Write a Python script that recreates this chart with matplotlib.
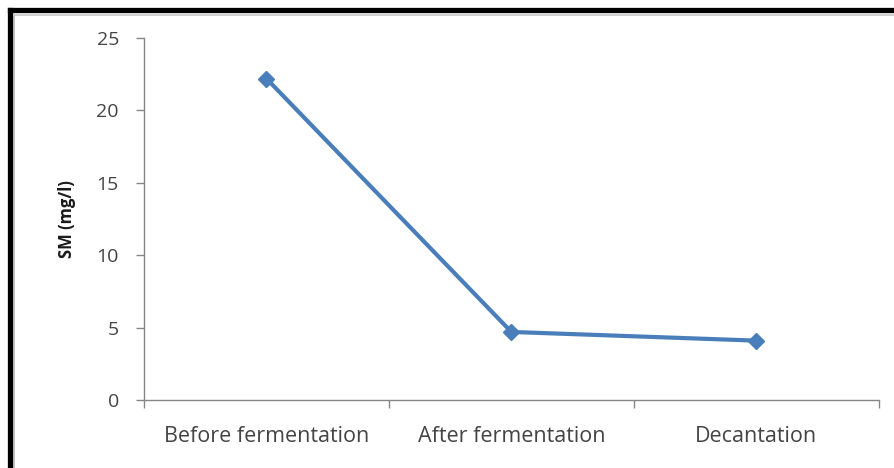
import matplotlib
matplotlib.use("Agg")
import matplotlib.pyplot as plt
from matplotlib.lines import Line2D

stages = ["Before fermentation", "After fermentation", "Decantation"]
sm_values = [22.2, 4.7, 4.1]
y_ticks = [0, 5, 10, 15, 20, 25]

plt.rcParams['font.family'] = ['Open Sans', 'DejaVu Sans']

fig = plt.figure(figsize=(8.94, 4.68), dpi=100)
ax = fig.add_axes([0.161, 0.1453, 0.822, 0.7735])

x = list(range(len(stages)))
ax.plot(x, sm_values, color="#4A7EBB", linewidth=3.0, marker="D",
        markersize=8.5, markerfacecolor="#4A7EBB", markeredgecolor="#4A7EBB")

ax.set_xlim(-0.5, len(stages) - 0.5)
ax.set_ylim(0, 25)
ax.set_yticks(y_ticks)
ax.set_yticklabels([str(v) for v in y_ticks], fontsize=14, color="#444444")

# category labels centered, tick marks on category boundaries
ax.set_xticks(x)
ax.set_xticklabels(stages, fontsize=15.5, color="#444444")
ax.tick_params(axis="x", length=0, pad=19)
ax.set_xticks([i - 0.5 for i in range(len(stages) + 1)], minor=True)
ax.tick_params(axis="x", which="minor", length=6, color="#868686", width=1)
ax.tick_params(axis="y", length=6, color="#868686", width=1, pad=12)

for side in ["top", "right"]:
    ax.spines[side].set_visible(False)
for side in ["left", "bottom"]:
    ax.spines[side].set_color("#868686")
    ax.spines[side].set_linewidth(1)

ax.set_ylabel("SM (mg/l)", fontsize=12, fontweight="bold", color="#1a1a1a", labelpad=15)

# outer frame: black edge with a soft grey inner line
fig.add_artist(Line2D([0.0112, 0.0112], [0.0, 0.978], transform=fig.transFigure,
                      color="black", linewidth=3.8, solid_capstyle="projecting"))
fig.add_artist(Line2D([0.0112, 1.0], [0.978, 0.978], transform=fig.transFigure,
                      color="black", linewidth=3.8, solid_capstyle="projecting"))
fig.add_artist(Line2D([0.0158, 0.0158], [0.0, 0.969], transform=fig.transFigure,
                      color="#b0b0b0", linewidth=1.2))
fig.add_artist(Line2D([0.0158, 1.0], [0.969, 0.969], transform=fig.transFigure,
                      color="#c8c8c8", linewidth=1.2))

fig.savefig("out.png", dpi=100)
